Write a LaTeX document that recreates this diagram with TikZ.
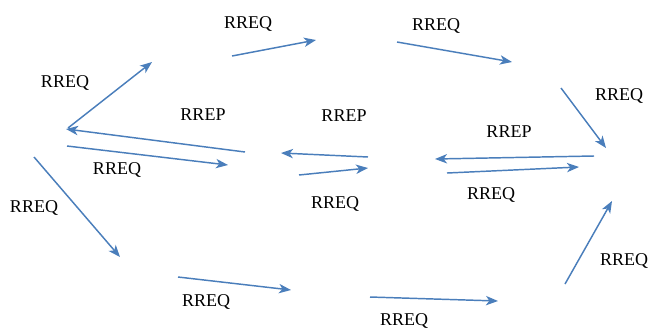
\documentclass[tikz,border=0pt]{standalone}
\usepackage{fontspec}
\setmainfont{Liberation Serif}
\usetikzlibrary{arrows.meta}
\definecolor{arrowblue}{RGB}{74,126,187}
\tikzset{
  msg/.style={draw=arrowblue, line width=1.1pt, -{Stealth[length=9pt,width=7pt,inset=2.5pt]}},
  lbl/.style={font=\fontsize{13.5pt}{15pt}\selectfont, text=black, inner sep=0pt}
}
\begin{document}
\begin{tikzpicture}[x=0.75pt,y=-0.75pt]
\useasboundingbox (0,0) rectangle (649,333);
% endpoints
\coordinate (a1s) at (68,128);  \coordinate (a1e) at (152,62);
\coordinate (a2s) at (232,56);  \coordinate (a2e) at (316,40);
\coordinate (a3s) at (397,42);  \coordinate (a3e) at (512,62);
\coordinate (a4s) at (561,88);  \coordinate (a4e) at (606,148);
\coordinate (a5s) at (594,156); \coordinate (a5e) at (435,159);
\coordinate (a6s) at (447,173); \coordinate (a6e) at (579,167);
\coordinate (a7s) at (368,157); \coordinate (a7e) at (281,153);
\coordinate (a8s) at (299,175); \coordinate (a8e) at (368,168);
\coordinate (a9s) at (245,152); \coordinate (a9e) at (66,129);
\coordinate (a10s) at (67,146); \coordinate (a10e) at (228,165);
\coordinate (a11s) at (34,157); \coordinate (a11e) at (120,257);
\coordinate (a12s) at (178,277); \coordinate (a12e) at (291,290);
\coordinate (a13s) at (370,297); \coordinate (a13e) at (498,301);
\coordinate (a14s) at (565,284); \coordinate (a14e) at (612,201);
% arrows
\draw[msg] (a1s) -- (a1e);
\draw[msg] (a2s) -- (a2e);
\draw[msg] (a3s) -- (a3e);
\draw[msg] (a4s) -- (a4e);
\draw[msg] (a5s) -- (a5e);
\draw[msg] (a6s) -- (a6e);
\draw[msg] (a7s) -- (a7e);
\draw[msg] (a8s) -- (a8e);
\draw[msg] (a9s) -- (a9e);
\draw[msg] (a10s) -- (a10e);
\draw[msg] (a11s) -- (a11e);
\draw[msg] (a12s) -- (a12e);
\draw[msg] (a13s) -- (a13e);
\draw[msg] (a14s) -- (a14e);
% labels
\node[lbl] (l1) at (248,24) {RREQ};
\node[lbl] (l2) at (436,26) {RREQ};
\node[lbl] (l3) at (65,83) {RREQ};
\node[lbl] (l4) at (203,115) {RREP};
\node[lbl] (l5) at (344,116) {RREP};
\node[lbl] (l6) at (509,132) {RREP};
\node[lbl] (l7) at (619,96) {RREQ};
\node[lbl] (l8) at (117,170) {RREQ};
\node[lbl] (l9) at (34,208) {RREQ};
\node[lbl] (l10) at (335,204) {RREQ};
\node[lbl] (l11) at (491,195) {RREQ};
\node[lbl] (l12) at (206,302) {RREQ};
\node[lbl] (l13) at (404,321) {RREQ};
\node[lbl] (l14) at (624,261) {RREQ};
\end{tikzpicture}
\end{document}
